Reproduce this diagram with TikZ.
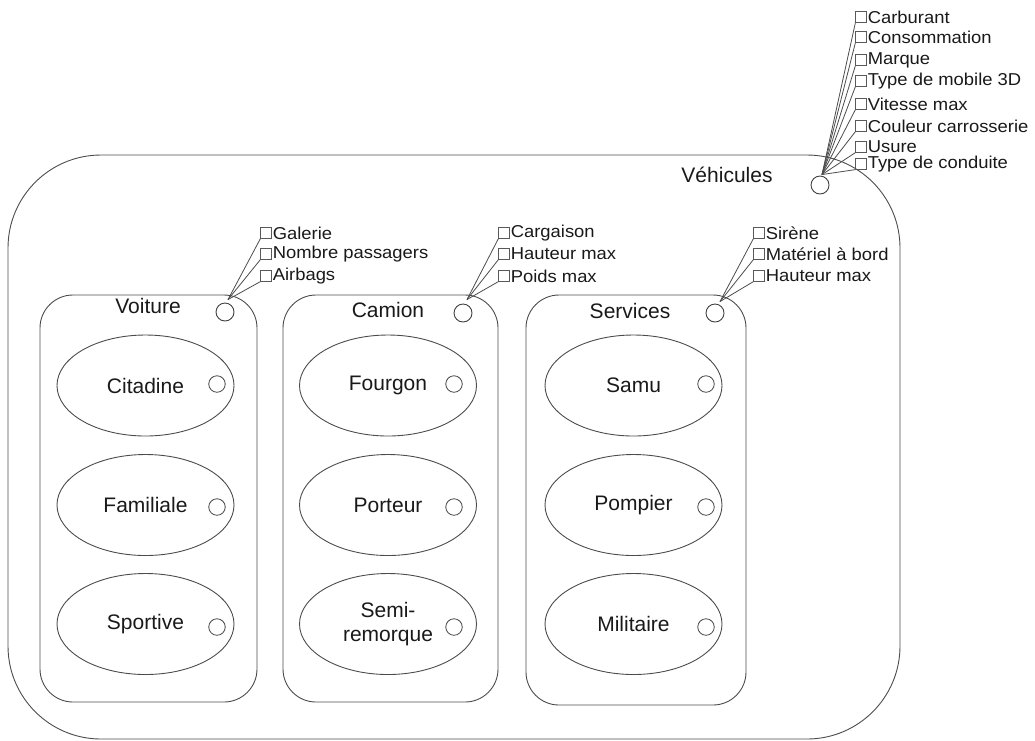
\documentclass[tikz,border=0pt]{standalone}
\usepackage{fontspec}
\setmainfont{Liberation Sans}
\newfontfamily\attrfont[FakeStretch=1.07]{Liberation Sans}
\usetikzlibrary{shapes.geometric,calc}
\begin{document}
\begin{tikzpicture}[x=1pt,y=-1pt,
 conn/.style={draw=black!70,line width=0.8pt},
 outerbox/.style={draw=black!70,line width=0.9pt,rounded corners=93pt,inner sep=0pt},
 groupbox/.style={draw=black!70,line width=0.9pt,rounded corners=33pt,inner sep=0pt},
 itembox/.style={ellipse,draw=black!70,line width=0.9pt,minimum width=177pt,minimum height=101pt,inner sep=0pt,font=\fontsize{21}{24}\selectfont,text=black!90,align=center},
 hdrcirc/.style={circle,draw=black!75,line width=0.9pt,minimum size=18pt,inner sep=0pt},
 itemcirc/.style={circle,draw=black!75,line width=0.8pt,minimum size=16.5pt,inner sep=0pt},
 lbl/.style={font=\fontsize{21}{24}\selectfont,text=black!90,inner sep=0pt},
 attrsq/.style={rectangle,draw=black!65,line width=0.7pt,minimum size=10.5pt,inner sep=0pt},
 attrtxt/.style={anchor=west,inner sep=1pt,font=\attrfont\fontsize{17.2}{19}\selectfont,text=black!90},
]
\useasboundingbox (0,0) rectangle (1035,740);

% outer group
\node[outerbox,minimum width=892pt,minimum height=584pt] (veh) at (454,447) {};
\node[lbl] (vehl) at (727,175) {Véhicules};
\node[hdrcirc] (vehc) at (820,185) {};
\coordinate (vehp) at ($(vehc.north)+(2,-1)$);
\foreach \i/\y/\t in {1/17/Carburant,2/37/Consommation,3/60/Marque,4/81/Type de mobile 3D,5/104/Vitesse max,6/126/Couleur carrosserie,7/147/Usure,8/164/Type de conduite}{
  \node[attrsq] (vq\i) at (861,\y) {};
  \node[attrtxt] (vt\i) at (vq\i.east) {\t};
  \draw[conn] (vehp) -- (vq\i.south west);
}

% Voiture
\node[groupbox,minimum width=217pt,minimum height=407pt] (voi) at (148.5,498.5) {};
\node[lbl] (voil) at (148,306) {Voiture};
\node[hdrcirc] (voic) at (225,312) {};
\coordinate (voip) at ($(voic.north)+(3,-3)$);
\foreach \i/\y/\t in {1/233/Galerie,2/254/Nombre passagers,3/276/Airbags}{
  \node[attrsq] (aq\i) at (266,\y) {};
  \node[attrtxt] (at\i) at (aq\i.east) {\t};
  \draw[conn] (voip) -- (aq\i.south west);
}
\node[itembox] (cit) at (145.5,385.5) {Citadine};
\node[itemcirc] (citc) at (217,384) {};
\node[itembox] (fam) at (145.5,505) {Familiale};
\node[itemcirc] (famc) at (217,507) {};
\node[itembox] (spo) at (145.5,624) {Sportive};
\node[itemcirc] (spoc) at (217,627) {};

% Camion
\node[groupbox,minimum width=215pt,minimum height=407pt] (cam) at (390.5,498.5) {};
\node[lbl] (caml) at (388,310) {Camion};
\node[hdrcirc] (camc) at (463,313) {};
\coordinate (camp) at ($(camc.north)+(4,-4)$);
\foreach \i/\y/\t in {1/233/Cargaison,2/254/Hauteur max,3/276/Poids max}{
  \node[attrsq] (bq\i) at (504,\y) {};
  \node[attrtxt] (bt\i) at (bq\i.east) {\t};
  \draw[conn] (camp) -- (bq\i.south west);
}
\node[itembox] (fou) at (388,385.5) {Fourgon};
\node[itemcirc] (fouc) at (454,384) {};
\node[itembox] (por) at (388,505) {Porteur};
\node[itemcirc] (porc) at (454,507) {};
\node[itembox] (sem) at (388,624) {Semi-\\remorque};
\node[itemcirc] (semc) at (454,627) {};

% Services
\node[groupbox,minimum width=220pt,minimum height=410pt] (ser) at (636,500) {};
\node[lbl] (serl) at (630,311) {Services};
\node[hdrcirc] (serc) at (715,313) {};
\coordinate (serp) at ($(serc.north)+(5,-2)$);
\foreach \i/\y/\t in {1/233/Sirène,2/254/Matériel à bord,3/276/Hauteur max}{
  \node[attrsq] (cq\i) at (759,\y) {};
  \node[attrtxt] (ct\i) at (cq\i.east) {\t};
  \draw[conn] (serp) -- (cq\i.south west);
}
\node[itembox] (sam) at (633.5,385.5) {Samu};
\node[itemcirc] (samc) at (706,384) {};
\node[itembox] (pom) at (633.5,505) {Pompier};
\node[itemcirc] (pomc) at (706,507) {};
\node[itembox] (mil) at (633.5,624) {Militaire};
\node[itemcirc] (milc) at (706,627) {};
\end{tikzpicture}
\end{document}
